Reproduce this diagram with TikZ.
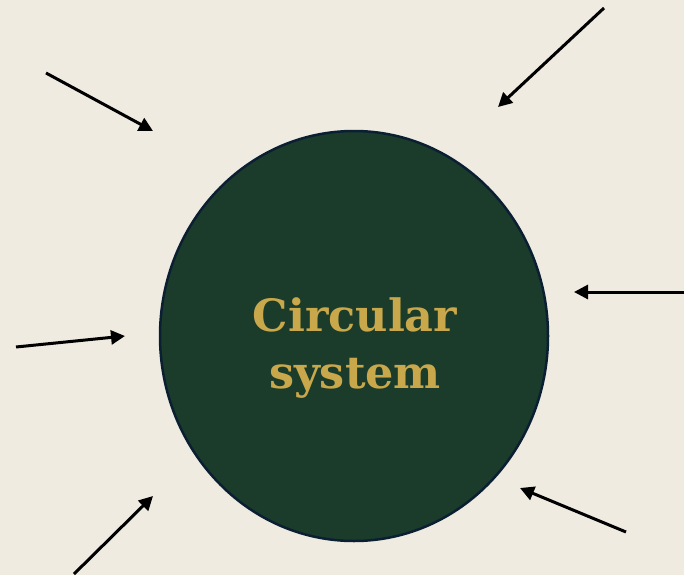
\documentclass[tikz,border=0pt]{standalone}
\usepackage{fontspec}
\setmainfont{DejaVu Serif}
\usetikzlibrary{arrows.meta,shapes.geometric}
\definecolor{bg}{HTML}{F0EBE1}
\definecolor{circfill}{HTML}{1B3C2B}
\definecolor{circedge}{HTML}{0B1F33}
\definecolor{gold}{HTML}{C9A84C}
\tikzset{
  inarrow/.style={draw=black, line width=3pt, -{Triangle[length=14pt,width=14pt]}},
}
\begin{document}
\begin{tikzpicture}[x=1pt,y=-1pt]
\fill[bg] (0,0) rectangle (684,575);
\useasboundingbox (0,0) rectangle (684,575);
\node[ellipse, minimum width=388pt, minimum height=410pt, fill=circfill, draw=circedge, line width=2.5pt, inner sep=0pt] (sys) at (354,336) {};
\node[text=gold, font=\fontsize{44.5}{57}\selectfont\bfseries, align=center] (lbl) at (355,348) {Circular\\system};
\coordinate (s1) at (46,73);   \coordinate (e1) at (153,131);
\coordinate (s2) at (604,8);   \coordinate (e2) at (498,107);
\coordinate (s3) at (684,292); \coordinate (e3) at (574,292);
\coordinate (s4) at (16,347);  \coordinate (e4) at (125,336);
\coordinate (s5) at (74,574);  \coordinate (e5) at (153,496);
\coordinate (s6) at (626,532); \coordinate (e6) at (520,488);
\foreach \i in {1,...,6} { \draw[inarrow] (s\i) -- (e\i); }
\end{tikzpicture}
\end{document}
